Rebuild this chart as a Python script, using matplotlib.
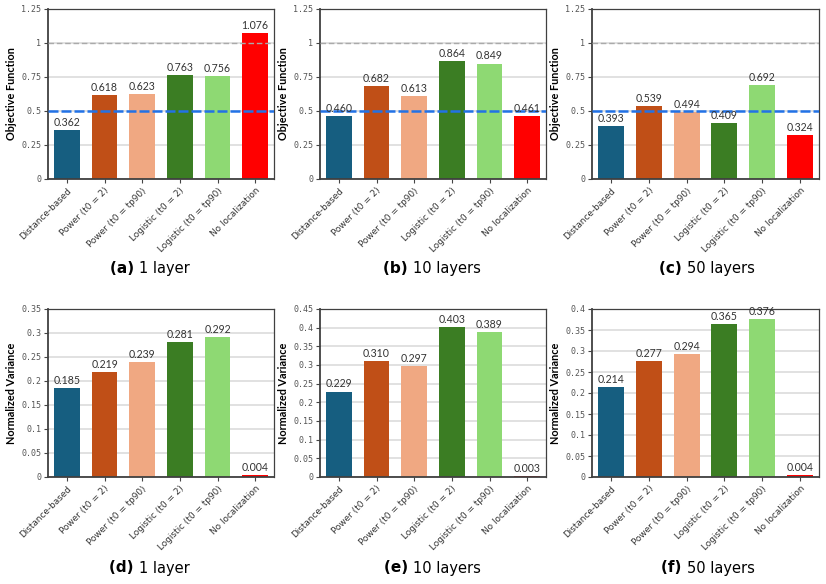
import numpy as np
import matplotlib
matplotlib.use("Agg")
import matplotlib.pyplot as plt

methods = ["Distance-based", "Power (t0 = 2)", "Power (t0 = tp90)",
           "Logistic (t0 = 2)", "Logistic (t0 = tp90)", "No localization"]
bar_colors = ["#165e80", "#c04f17", "#f0a882", "#3b7d23", "#8ed973", "#ff0000"]

obj_1 = [0.362, 0.618, 0.623, 0.763, 0.756, 1.076]
obj_10 = [0.460, 0.682, 0.613, 0.864, 0.849, 0.461]
obj_50 = [0.393, 0.539, 0.494, 0.409, 0.692, 0.324]

var_1 = [0.185, 0.219, 0.239, 0.281, 0.292, 0.004]
var_10 = [0.229, 0.310, 0.297, 0.403, 0.389, 0.003]
var_50 = [0.214, 0.277, 0.294, 0.365, 0.376, 0.004]

captions = [("(a)", "1 layer"), ("(b)", "10 layers"), ("(c)", "50 layers"),
            ("(d)", "1 layer"), ("(e)", "10 layers"), ("(f)", "50 layers")]

W, H = 826, 584
fig = plt.figure(figsize=(W / 100, H / 100), dpi=100)


def px_axes(x0, y0, x1, y1):
    return fig.add_axes([x0 / W, 1 - y1 / H, (x1 - x0) / W, (y1 - y0) / H])


def draw_panel(ax, values, ymax, step, ylabel, ref_lines):
    x = np.arange(len(values))
    ax.set_axisbelow(True)
    ticks = np.round(np.arange(0, ymax + step / 2, step), 4)
    ax.set_yticks(ticks)
    ax.set_yticklabels([f"{t:g}" for t in ticks], family="DejaVu Sans Mono",
                       fontsize=6, color="#555555")
    ax.yaxis.grid(True, color="#dcdcdc", lw=1.2)
    ax.bar(x, values, width=0.69, color=bar_colors, zorder=2)
    if ref_lines:
        ax.axhline(1.0, color="#aaaaaa", lw=1, ls=(0, (4, 2)), zorder=3)
        ax.axhline(0.5, color="#2272e6", lw=1.8, ls=(0, (4, 1.2)), zorder=3)
    for xi, v in zip(x, values):
        ax.text(xi, v + ymax * 0.012, f"{v:.3f}", ha="center", va="bottom",
                fontsize=7.6, family="Lato", color="#333333", zorder=4)
    ax.set_xlim(-0.5, len(values) - 0.5)
    ax.set_ylim(0, ymax)
    ax.set_xticks(x)
    ax.set_xticklabels(methods, rotation=45, ha="right", rotation_mode="anchor",
                       fontsize=6.4, family="DejaVu Sans", color="#333333")
    ax.tick_params(axis="both", length=3, width=0.8, color="#444444", pad=2)
    ax.set_ylabel(ylabel, fontsize=7.8, family="Lato", fontweight="bold", labelpad=3)
    for side in ["left", "bottom"]:
        ax.spines[side].set_color("#404040")
        ax.spines[side].set_linewidth(1.3)
    for side in ["top", "right"]:
        ax.spines[side].set_color("#404040")
        ax.spines[side].set_linewidth(0.9)


col_x = [(48, 274), (320, 546), (592, 819)]
top_sets = [obj_1, obj_10, obj_50]
bot_sets = [var_1, var_10, var_50]
bot_max = [0.35, 0.45, 0.4]

for i in range(3):
    ax = px_axes(col_x[i][0], 9, col_x[i][1], 179)
    draw_panel(ax, top_sets[i], 1.25, 0.25, "Objective Function", True)
    ax = px_axes(col_x[i][0], 309, col_x[i][1], 477)
    draw_panel(ax, bot_sets[i], bot_max[i], 0.05, "Normalized Variance", False)

cap_x = [139, 413, 687]
cap_y = [268, 568]
for k, (tag, txt) in enumerate(captions):
    cx = cap_x[k % 3] / W
    cy = 1 - cap_y[k // 3] / H
    fig.text(cx, cy, tag + " ", ha="right", va="center", fontsize=11,
             fontweight="bold", family="DejaVu Sans")
    fig.text(cx, cy, txt, ha="left", va="center", fontsize=10.5,
             family="DejaVu Sans")

fig.savefig("out.png", dpi=100)
